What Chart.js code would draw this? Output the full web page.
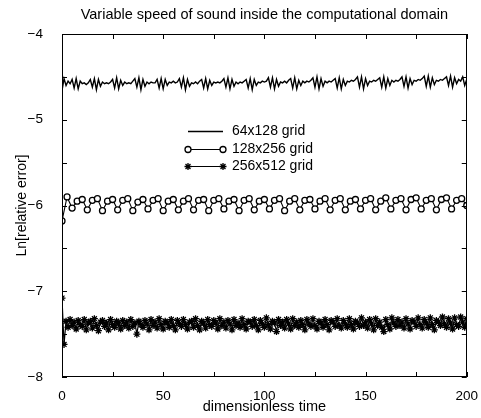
<!DOCTYPE html>
<html><head><meta charset="utf-8">
<script src="https://cdn.jsdelivr.net/npm/chart.js@4/dist/chart.umd.min.js"></script>
<style>html,body{margin:0;padding:0;background:#fff;}canvas{display:block;}</style>
</head><body>
<canvas id="c" width="481" height="418"></canvas>
<script>
const chartTitle = 'Variable speed of sound inside the computational domain';
const xTitle = 'dimensionless time';
const yTitle = 'Ln[relative error]';
const seriesLabels = ['64x128 grid', '128x256 grid', '256x512 grid'];
const xTickMarks = [0,25,50,75,100,125,150,175,200];
const yTickMarks = [-8,-7.5,-7,-6.5,-6,-5.5,-5,-4.5,-4];

const timeFine = [
0,1,2,3,4,5,6,7,8,9,10,11,12,13,14,15,16,17,18,19,
20,21,22,23,24,25,26,27,28,29,30,31,32,33,34,35,36,37,38,39,
40,41,42,43,44,45,46,47,48,49,50,51,52,53,54,55,56,57,58,59,
60,61,62,63,64,65,66,67,68,69,70,71,72,73,74,75,76,77,78,79,
80,81,82,83,84,85,86,87,88,89,90,91,92,93,94,95,96,97,98,99,
100,101,102,103,104,105,106,107,108,109,110,111,112,113,114,115,116,117,118,119,
120,121,122,123,124,125,126,127,128,129,130,131,132,133,134,135,136,137,138,139,
140,141,142,143,144,145,146,147,148,149,150,151,152,153,154,155,156,157,158,159,
160,161,162,163,164,165,166,167,168,169,170,171,172,173,174,175,176,177,178,179,
180,181,182,183,184,185,186,187,188,189,190,191,192,193,194,195,196,197,198,199,
200];

const grid64 = [
-4.66,-4.52,-4.60,-4.55,-4.58,-4.53,-4.63,-4.52,-4.64,-4.55,
-4.58,-4.57,-4.59,-4.57,-4.53,-4.62,-4.52,-4.65,-4.53,-4.61,
-4.56,-4.58,-4.57,-4.58,-4.56,-4.53,-4.63,-4.51,-4.64,-4.54,
-4.60,-4.56,-4.58,-4.57,-4.58,-4.55,-4.52,-4.62,-4.51,-4.65,
-4.53,-4.61,-4.56,-4.58,-4.56,-4.57,-4.57,-4.53,-4.63,-4.52,
-4.64,-4.53,-4.60,-4.56,-4.57,-4.55,-4.57,-4.56,-4.52,-4.62,
-4.51,-4.65,-4.53,-4.61,-4.57,-4.58,-4.56,-4.58,-4.55,-4.53,
-4.63,-4.52,-4.64,-4.54,-4.60,-4.56,-4.57,-4.56,-4.57,-4.55,
-4.52,-4.62,-4.51,-4.64,-4.53,-4.61,-4.56,-4.58,-4.56,-4.57,
-4.55,-4.53,-4.63,-4.52,-4.65,-4.53,-4.60,-4.56,-4.57,-4.55,
-4.56,-4.55,-4.51,-4.62,-4.51,-4.64,-4.53,-4.61,-4.56,-4.57,
-4.55,-4.57,-4.54,-4.52,-4.63,-4.51,-4.64,-4.54,-4.60,-4.55,
-4.57,-4.55,-4.56,-4.54,-4.51,-4.62,-4.50,-4.64,-4.52,-4.61,
-4.55,-4.57,-4.55,-4.56,-4.54,-4.52,-4.63,-4.51,-4.64,-4.53,
-4.60,-4.55,-4.56,-4.54,-4.55,-4.53,-4.50,-4.62,-4.50,-4.64,
-4.52,-4.60,-4.55,-4.56,-4.54,-4.55,-4.53,-4.51,-4.62,-4.50,
-4.63,-4.52,-4.60,-4.54,-4.56,-4.54,-4.55,-4.53,-4.50,-4.61,
-4.50,-4.63,-4.52,-4.59,-4.54,-4.55,-4.53,-4.54,-4.52,-4.49,
-4.61,-4.49,-4.62,-4.51,-4.59,-4.54,-4.55,-4.53,-4.54,-4.52,
-4.50,-4.60,-4.49,-4.62,-4.51,-4.58,-4.53,-4.55,-4.50,-4.60,
-4.53];

const timeMid = [
0,2.5,5,7.5,10,12.5,15,17.5,20,22.5,25,27.5,30,32.5,35,37.5,40,42.5,45,47.5,
50,52.5,55,57.5,60,62.5,65,67.5,70,72.5,75,77.5,80,82.5,85,87.5,90,92.5,95,97.5,
100,102.5,105,107.5,110,112.5,115,117.5,120,122.5,125,127.5,130,132.5,135,137.5,140,142.5,145,147.5,
150,152.5,155,157.5,160,162.5,165,167.5,170,172.5,175,177.5,180,182.5,185,187.5,190,192.5,195,197.5,
200];

const grid128 = [
-6.18,-5.90,-6.03,-5.95,-5.93,-6.05,-5.94,-5.92,-6.06,-5.95,
-5.93,-6.05,-5.94,-5.92,-6.06,-5.96,-5.93,-6.04,-5.94,-5.92,
-6.06,-5.95,-5.93,-6.05,-5.95,-5.92,-6.05,-5.94,-5.93,-6.06,
-5.94,-5.92,-6.04,-5.95,-5.93,-6.06,-5.94,-5.92,-6.05,-5.95,
-5.93,-6.04,-5.94,-5.92,-6.06,-5.95,-5.92,-6.05,-5.94,-5.93,
-6.04,-5.95,-5.92,-6.05,-5.94,-5.92,-6.05,-5.95,-5.93,-6.04,
-5.94,-5.92,-6.05,-5.95,-5.91,-6.04,-5.94,-5.92,-6.05,-5.93,
-5.91,-6.04,-5.94,-5.92,-6.05,-5.93,-5.91,-6.04,-5.94,-5.92,
-6.00];

const grid256 = [
-7.08,-7.62,-7.35,-7.42,-7.33,-7.40,-7.36,-7.44,-7.34,-7.39,
-7.41,-7.33,-7.45,-7.37,-7.35,-7.43,-7.32,-7.40,-7.46,-7.36,
-7.34,-7.41,-7.37,-7.45,-7.33,-7.39,-7.42,-7.35,-7.38,-7.44,
-7.34,-7.40,-7.36,-7.43,-7.33,-7.41,-7.37,-7.50,-7.35,-7.39,
-7.42,-7.34,-7.38,-7.45,-7.33,-7.40,-7.36,-7.43,-7.32,-7.39,
-7.44,-7.35,-7.37,-7.42,-7.33,-7.40,-7.45,-7.34,-7.38,-7.41,
-7.33,-7.39,-7.44,-7.36,-7.35,-7.42,-7.32,-7.40,-7.45,-7.35,
-7.38,-7.43,-7.33,-7.39,-7.41,-7.34,-7.37,-7.44,-7.32,-7.40,
-7.36,-7.43,-7.34,-7.38,-7.45,-7.33,-7.40,-7.37,-7.42,-7.32,
-7.39,-7.44,-7.35,-7.36,-7.41,-7.33,-7.40,-7.45,-7.34,-7.38,
-7.42,-7.31,-7.39,-7.44,-7.35,-7.37,-7.47,-7.33,-7.40,-7.36,
-7.43,-7.33,-7.38,-7.44,-7.32,-7.40,-7.36,-7.42,-7.34,-7.39,
-7.45,-7.33,-7.38,-7.41,-7.32,-7.40,-7.44,-7.35,-7.37,-7.42,
-7.33,-7.39,-7.45,-7.34,-7.36,-7.41,-7.32,-7.40,-7.43,-7.34,
-7.38,-7.42,-7.32,-7.39,-7.44,-7.35,-7.37,-7.41,-7.31,-7.40,
-7.36,-7.43,-7.33,-7.38,-7.45,-7.32,-7.40,-7.36,-7.42,-7.47,
-7.33,-7.39,-7.44,-7.31,-7.37,-7.41,-7.33,-7.40,-7.36,-7.43,
-7.32,-7.38,-7.44,-7.34,-7.36,-7.41,-7.31,-7.39,-7.43,-7.33,
-7.37,-7.42,-7.31,-7.39,-7.45,-7.34,-7.36,-7.40,-7.30,-7.38,
-7.42,-7.32,-7.37,-7.44,-7.31,-7.39,-7.41,-7.30,-7.36,-7.42,
-7.32];

const FONT = 'Liberation Sans, Arial, sans-serif';
Chart.defaults.color = '#000';
Chart.defaults.font.family = FONT;

function pairs(xs, ys){ return ys.map((y,i)=>({x:xs[i], y:y})); }

const framePlugin = {
  id:'frame',
  afterDatasetsDraw(chart){
    const {ctx, chartArea:a, scales:{x,y}} = chart;
    ctx.save();
    ctx.strokeStyle = '#000';
    ctx.lineWidth = 1;
    ctx.strokeRect(Math.round(a.left)+0.5, Math.round(a.top)+0.5, Math.round(a.right-a.left)-1, Math.round(a.bottom-a.top)-1);
    const L = 5;
    ctx.beginPath();
    xTickMarks.forEach(v=>{
      const px = Math.round(x.getPixelForValue(v))+0.5;
      ctx.moveTo(px, a.bottom); ctx.lineTo(px, a.bottom-L);
      ctx.moveTo(px, a.top); ctx.lineTo(px, a.top+L);
    });
    yTickMarks.forEach(v=>{
      const py = Math.round(y.getPixelForValue(v))+0.5;
      ctx.moveTo(a.left, py); ctx.lineTo(a.left+L, py);
      ctx.moveTo(a.right, py); ctx.lineTo(a.right-L, py);
    });
    ctx.stroke();
    ctx.restore();
  },
  afterDraw(chart){
    const {ctx, chartArea:a} = chart;
    ctx.save();
    ctx.font = '14.5px ' + FONT;
    ctx.fillStyle = '#000';
    ctx.textAlign = 'center';
    ctx.textBaseline = 'middle';
    ctx.fillText(chartTitle, (a.left + a.right)/2, 15);
    ctx.textAlign = 'left';
    const x0 = a.left + 126, x1 = a.left + 161, tx = a.left + 170;
    const rows = [a.top + 97, a.top + 115, a.top + 132];
    ctx.font = '14px ' + FONT;
    chart.data.datasets.forEach((ds,i)=>{
      const yy = rows[i] + 0.5;
      ctx.strokeStyle = '#000';
      ctx.lineWidth = ds.borderWidth;
      ctx.beginPath(); ctx.moveTo(x0, yy); ctx.lineTo(x1, yy); ctx.stroke();
      if (ds.pointRadius > 0) {
        [x0, x1].forEach(px=>{
          ctx.fillStyle = '#fff'; ctx.strokeStyle = '#000'; ctx.lineWidth = ds.pointBorderWidth;
          if (ds.pointStyle === 'circle') { ctx.beginPath(); ctx.arc(px, yy, ds.pointRadius, 0, Math.PI*2); ctx.fill(); ctx.stroke(); }
          else { Chart.helpers.drawPoint(ctx, {pointStyle:'star', radius: ds.pointRadius, borderWidth: ds.pointBorderWidth}, px, yy); }
        });
      }
      ctx.fillStyle = '#000';
      ctx.fillText(ds.label, tx, yy);
    });
    ctx.restore();
  }
};

new Chart(document.getElementById('c'), {
  type: 'line',
  data: {
    datasets: [
      { label: seriesLabels[0], data: pairs(timeFine, grid64), borderColor:'#000', borderWidth:1.4, pointRadius:0, tension:0 },
      { label: seriesLabels[1], data: pairs(timeMid, grid128), borderColor:'#000', borderWidth:1.1, pointStyle:'circle', pointRadius:3, pointBorderWidth:1.3, pointBackgroundColor:'#fff', pointBorderColor:'#000', tension:0 },
      { label: seriesLabels[2], data: pairs(timeFine, grid256), borderColor:'#000', borderWidth:1.2, pointStyle:'star', pointRadius:3.5, pointBorderWidth:1.3, pointBorderColor:'#000', pointBackgroundColor:'#000', tension:0 }
    ]
  },
  options: {
    responsive: false,
    animation: false,
    devicePixelRatio: 1,
    layout: { padding: { top: 34, right: 10, left: 0, bottom: 0 } },
    plugins: {
      legend: { display: false },
      tooltip: { enabled: false },
      title: { display: false }
    },
    scales: {
      x: {
        type: 'linear', min: 0, max: 200,
        ticks: { stepSize: 50, color:'#000', font: { family: FONT, size: 13.5 }, padding: 3, maxRotation: 0 },
        grid: { display: false }, border: { display: false },
        title: { display: true, text: xTitle, color:'#000', font: { family: FONT, size: 14.5 }, padding: { top: 0, bottom: 2 } },
        afterFit(s){ s.height = 41; }
      },
      y: {
        type: 'linear', min: -8, max: -4,
        ticks: { stepSize: 1, color:'#000', font: { family: FONT, size: 13.5 }, padding: 11,
                 callback: v => String(v).replace('-', '\u2212') },
        grid: { display: false }, border: { display: false },
        title: { display: true, text: yTitle, color:'#000', font: { family: FONT, size: 14 }, padding: { top: 14, bottom: 0 } },
        afterFit(s){ s.width = 62; }
      }
    }
  },
  plugins: [framePlugin]
});
</script>
</body></html>
